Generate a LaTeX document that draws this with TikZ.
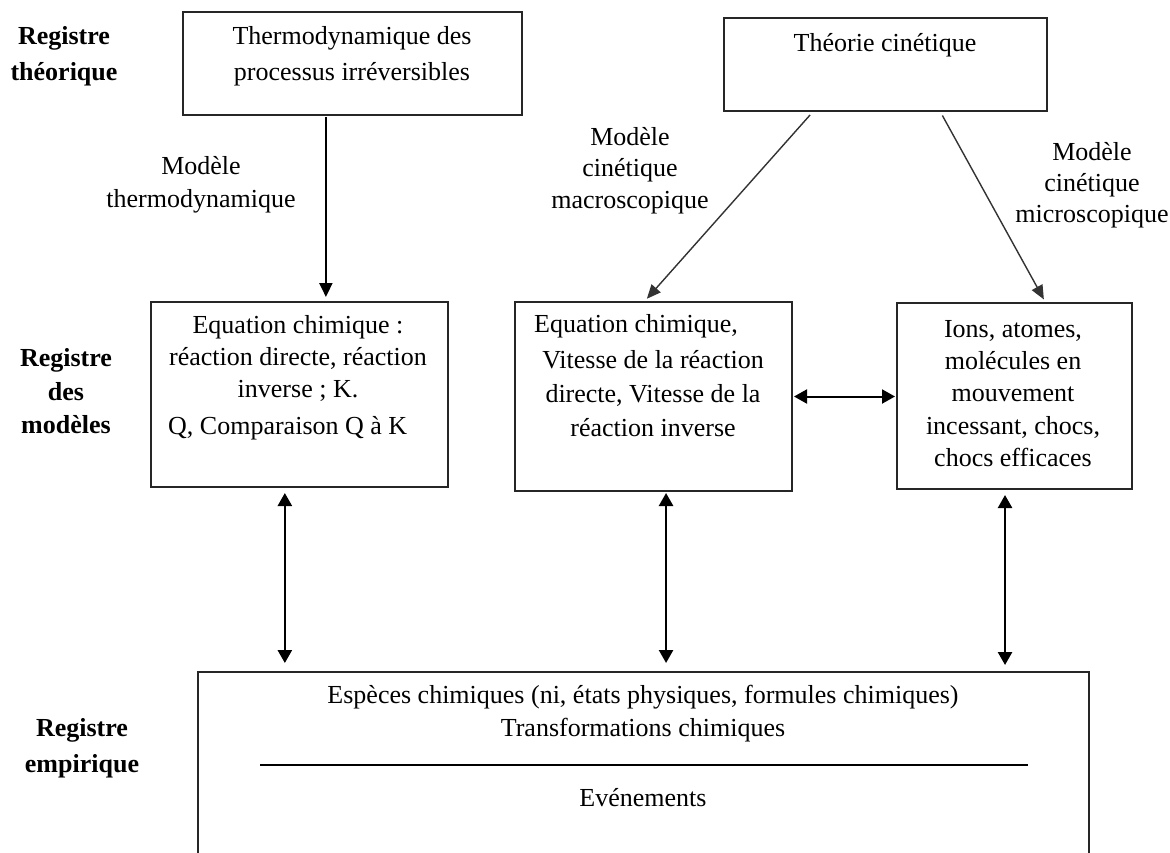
\documentclass[tikz,border=0pt]{standalone}
\usepackage{fontspec}
\setmainfont{Liberation Serif}
\usetikzlibrary{arrows.meta,calc}
\begin{document}
\begin{tikzpicture}[x=1pt,y=1pt,
  box/.style={draw=black!85, line width=2pt, rectangle, inner sep=0pt},
  txt/.style={align=center, inner sep=0pt, font=\fontsize{26}{#1}\selectfont},
  txt/.default=33,
  reg/.style={align=center, inner sep=0pt, font=\fontsize{26}{#1}\selectfont\bfseries},
  reg/.default=34,
  tip/.style={Triangle[length=14pt,width=13pt]},
  arr/.style={line width=2pt, -{Triangle[length=14pt,width=13pt]}},
  thinarr/.style={line width=1.4pt, draw=black!80, -{Triangle[length=14pt,width=12pt]}},
  darr/.style={line width=#1, {Triangle[length=13pt,width=14pt]}-{Triangle[length=13pt,width=14pt]}},
  darr/.default=2.5pt]
\useasboundingbox (0,0) rectangle (1170,-852);
\clip (0,0) rectangle (1170,-852);
\fill[white] (0,0) rectangle (1170,-852);

% register labels
\node[reg=36] (rth) at (64,-56) {Registre\\théorique};
\node[reg=33.5] (rmo) at (66,-391.5) {Registre\\des\\modèles};
\node[reg=36] (rem) at (82,-748) {Registre\\empirique};

% boxes
\node[box, minimum width=339pt, minimum height=103pt] (thermo) at (352.5,-63.5) {};
\node[box, minimum width=323pt, minimum height=93pt] (theorie) at (885.5,-64.5) {};
\node[box, minimum width=297pt, minimum height=185pt] (eq1) at (299.5,-394.5) {};
\node[box, minimum width=277pt, minimum height=189pt] (eq2) at (653.5,-396.5) {};
\node[box, minimum width=235pt, minimum height=186pt] (ions) at (1014.5,-396) {};
\node[box, minimum width=891pt, minimum height=228pt] (bottom) at (643.5,-786) {};

% box texts
\node[txt=36] (tthermo) at (352,-56) {Thermodynamique des\\processus irréversibles};
\node[txt] (ttheorie) at (885,-45) {Théorie cinétique};
\node[txt=32] (teq1a) at (298,-358) {Equation chimique :\\réaction directe, réaction\\inverse ; K.};
\node[txt, anchor=west] (teq1b) at (168,-428) {Q, Comparaison Q à K};
\node[txt, anchor=west] (teq2a) at (534,-326) {Equation chimique,};
\node[txt=34] (teq2b) at (653,-394) {Vitesse de la réaction\\directe, Vitesse de la\\réaction inverse};
\node[txt=32.25] (tions) at (1013,-393.5) {Ions, atomes,\\molécules en\\mouvement\\incessant, chocs,\\chocs efficaces};
\node[txt=33] (tbot) at (643,-713.5) {Espèces chimiques (ni, états physiques, formules chimiques)\\Transformations chimiques};
\draw[line width=2pt] ($(bottom.north west)+(63,-94)$) coordinate (r1) -- ($(bottom.north east)+(-62,-94)$) coordinate (r2);
\node[txt] (tevt) at (643,-798) {Evénements};

% connector labels
\node[txt=33] (lthermo) at (201,-184.5) {Modèle\\thermodynamique};
\node[txt=31.5] (lmacro) at (630,-170.5) {Modèle\\cinétique\\macroscopique};
\node[txt=31] (lmicro) at (1092,-185) {Modèle\\cinétique\\microscopique};

% connectors
\coordinate (a1) at ($(thermo.south west)!0.422!(thermo.south east)$);
\draw[arr, shorten <=1pt, shorten >=4pt] (a1) -- (a1 |- eq1.north);
\draw[thinarr, shorten <=4pt, shorten >=3pt] ($(theorie.south west)!0.276!(theorie.south east)$) -- ($(eq2.north west)!0.469!(eq2.north east)$);
\draw[thinarr, shorten <=4pt, shorten >=3pt] ($(theorie.south west)!0.669!(theorie.south east)$) -- ($(ions.north west)!0.63!(ions.north east)$);
\draw[darr=2pt, shorten <=1pt, shorten >=1pt] (eq2.east) -- (eq2.east -| ions.west);
\coordinate (v1) at ($(eq1.south west)!0.451!(eq1.south east)$);
\coordinate (v2) at ($(eq2.south west)!0.545!(eq2.south east)$);
\coordinate (v3) at ($(ions.south west)!0.46!(ions.south east)$);
\draw[darr, shorten <=5pt, shorten >=8pt] (v1) -- (v1 |- bottom.north);
\draw[darr, shorten <=1pt, shorten >=8pt] (v2) -- (v2 |- bottom.north);
\draw[darr, shorten <=5pt, shorten >=6pt] (v3) -- (v3 |- bottom.north);
\end{tikzpicture}
\end{document}
